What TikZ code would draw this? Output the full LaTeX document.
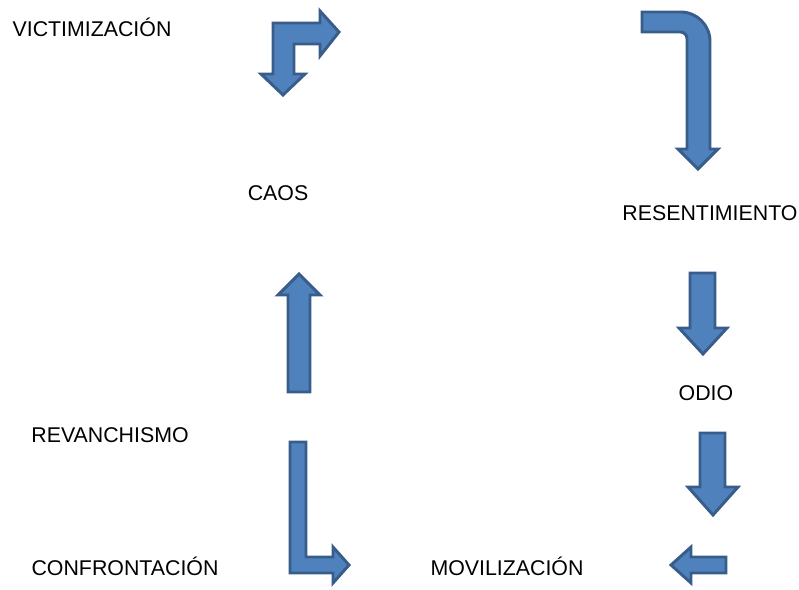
\documentclass[tikz,border=0pt]{standalone}
\usepackage{fontspec}
\setmainfont{Liberation Sans}
\definecolor{arrowfill}{HTML}{4F81BD}
\definecolor{arrowline}{HTML}{385D8A}
\begin{document}
\begin{tikzpicture}[x=0.75pt,y=-0.75pt,
  word node/.style={inner sep=0pt,font=\fontsize{16}{19}\selectfont},
  block arrow/.style={fill=arrowfill,draw=arrowline,line width=2.2pt,line join=miter}]
  \useasboundingbox (0,0) rectangle (799,589);

  \node[word node] (victim) at (92,27) {VICTIMIZACIÓN};
  \node[word node] (caos) at (278,193) {CAOS};
  \node[word node] (resent) at (710,213) {RESENTIMIENTO};
  \node[word node] (odio) at (706,393) {ODIO};
  \node[word node] (revan) at (110,435) {REVANCHISMO};
  \node[word node] (confront) at (125,566) {CONFRONTACIÓN};
  \node[word node] (movil) at (507,566) {MOVILIZACIÓN};

  \draw[block arrow] (283,95) -- (305,74) -- (294,74) -- (294,44) -- (320,44)
    -- (320,56) -- (339,32) -- (320,11) -- (320,23) -- (273,23) -- (273,74)
    -- (261,74) -- cycle;
  \draw[block arrow] (642,12) [rounded corners=22pt] -- (710,12) [sharp corners]
    -- (710,149) -- (718,149) -- (698,169) -- (678,149) -- (687,149)
    [rounded corners=5pt] -- (687,32) [sharp corners] -- (642,32) -- cycle;
  \draw[block arrow] (299,274) -- (320,295) -- (310,295) -- (310,392)
    -- (288,392) -- (288,295) -- (278,295) -- cycle;
  \draw[block arrow] (690,273) -- (715,273) -- (715,328) -- (727,328)
    -- (703,354) -- (679,328) -- (690,328) -- cycle;
  \draw[block arrow] (700,433) -- (725,433) -- (725,487) -- (738,487)
    -- (713,515) -- (688,487) -- (700,487) -- cycle;
  \draw[block arrow] (290,442) -- (306,442) -- (306,557) -- (333,557)
    -- (333,547) -- (349,565) -- (333,583) -- (333,573) -- (290,573) -- cycle;
  \draw[block arrow] (671,565) -- (691,547) -- (691,557) -- (726,557)
    -- (726,573) -- (691,573) -- (691,583) -- cycle;
\end{tikzpicture}
\end{document}
